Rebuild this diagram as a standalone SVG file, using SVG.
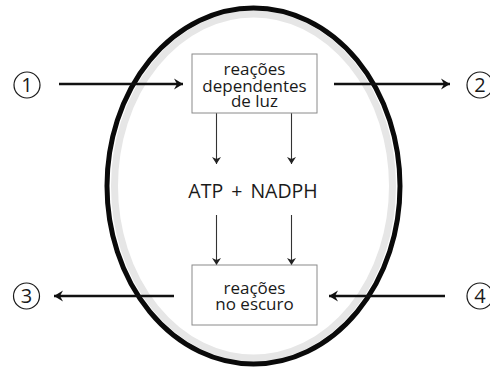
<svg xmlns="http://www.w3.org/2000/svg" width="490" height="371" viewBox="0 0 490 371">
<style>
  .lbl { font-family: "Open Sans", "Liberation Sans", sans-serif; font-size: 17px; fill: #1a1a1a; text-anchor: middle; }
  .num { font-family: "Open Sans", "Liberation Sans", sans-serif; font-size: 20px; fill: #1a1a1a; text-anchor: middle; }
  .box { fill: #ffffff; stroke: #8a8a8a; stroke-width: 1; }
  .ring { fill: none; stroke: #1a1a1a; stroke-width: 1.2; }
  .thick { stroke: #111; stroke-width: 2.4; fill: none; marker-end: url(#bigHead); }
  .thin { stroke: #333; stroke-width: 1.1; fill: none; marker-end: url(#smallHead); }
</style>
<defs>
  <marker id="bigHead" markerUnits="userSpaceOnUse" markerWidth="14" markerHeight="14" viewBox="-12 -7 14 14" refX="0" refY="0" orient="auto">
    <path d="M0,0 L-9,-5.5 L-6,0 L-9,5.5 Z" fill="#111"/>
  </marker>
  <marker id="smallHead" markerUnits="userSpaceOnUse" markerWidth="12" markerHeight="12" viewBox="-10 -6 12 12" refX="0" refY="0" orient="auto">
    <path d="M0,0 L-7,-4.5 L-5,0 L-7,4.5 Z" fill="#222"/>
  </marker>
</defs>

<g id="chloroplast">
  <ellipse cx="253.5" cy="186" rx="139" ry="172" fill="#ffffff" stroke="#e6e6e6" stroke-width="7"/>
  <ellipse cx="253.5" cy="186" rx="146.5" ry="178" fill="none" stroke="#0a0a0a" stroke-width="5"/>
</g>

<g id="connectors">
  <line class="thick" x1="59" y1="84" x2="183" y2="84"/>
  <line class="thick" x1="334" y1="84" x2="450" y2="84"/>
  <line class="thick" x1="174" y1="296" x2="54" y2="296"/>
  <line class="thick" x1="445" y1="296" x2="329" y2="296"/>
  <line class="thin" x1="216.5" y1="113" x2="216.5" y2="164"/>
  <line class="thin" x1="291.5" y1="113" x2="291.5" y2="164"/>
  <line class="thin" x1="216.5" y1="215" x2="216.5" y2="265"/>
  <line class="thin" x1="291.5" y1="215" x2="291.5" y2="265"/>
</g>

<g id="light-reactions">
  <rect class="box" x="192" y="54" width="125" height="59"/>
  <text class="lbl" x="254.5" y="75">reações</text>
  <text class="lbl" x="254.5" y="91.5">dependentes</text>
  <text class="lbl" x="254.5" y="107">de luz</text>
</g>

<g id="atp-nadph">
  <text class="lbl" x="253" y="198" style="font-size:19.5px; word-spacing:3px">ATP + NADPH</text>
</g>

<g id="dark-reactions">
  <rect class="box" x="192" y="265" width="125" height="60"/>
  <text class="lbl" x="254.5" y="294">reações</text>
  <text class="lbl" x="254.5" y="310">no escuro</text>
</g>

<g id="n1">
  <circle class="ring" cx="27" cy="85" r="13"/>
  <text class="num" x="27" y="92">1</text>
</g>
<g id="n2">
  <circle class="ring" cx="480" cy="85" r="13"/>
  <text class="num" x="480" y="92">2</text>
</g>
<g id="n3">
  <circle class="ring" cx="26.5" cy="296" r="13"/>
  <text class="num" x="26.5" y="303">3</text>
</g>
<g id="n4">
  <circle class="ring" cx="480" cy="296" r="13"/>
  <text class="num" x="480" y="303">4</text>
</g>
</svg>
